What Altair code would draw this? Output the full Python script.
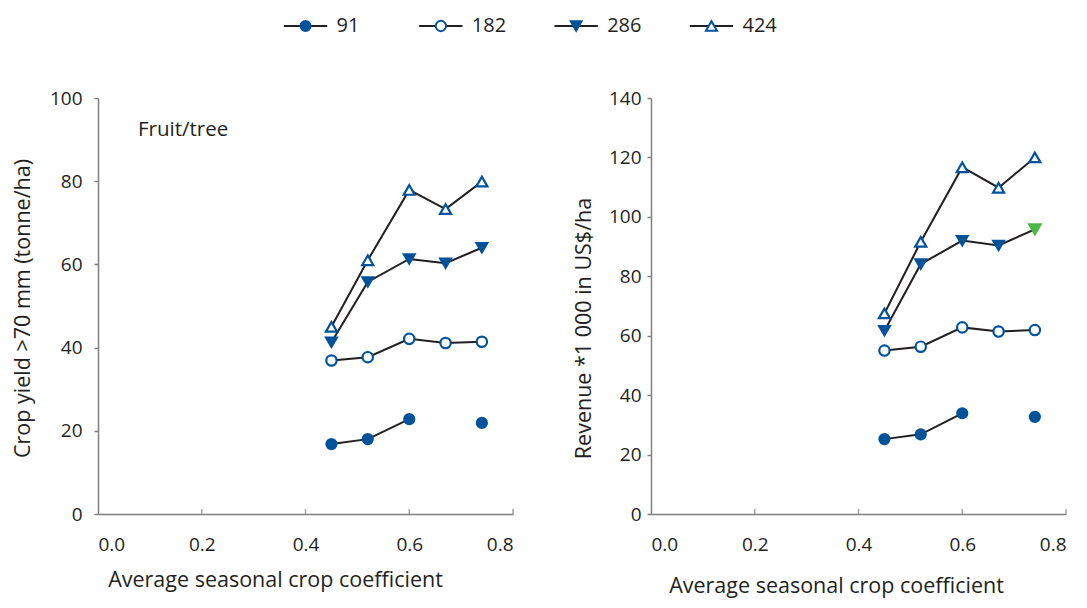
import altair as alt
import pandas as pd

# ---------------- data ----------------
series = ["91", "182", "286", "424"]
coef = [0.45, 0.52, 0.60, 0.67, 0.74]

yield_91 = [16.8, 18.0, 22.8, None, 21.9]
yield_182 = [36.9, 37.7, 42.1, 41.1, 41.4]
yield_286 = [41.3, 55.8, 61.3, 60.3, 64.0]
yield_424 = [45.0, 61.0, 77.9, 73.3, 79.9]

rev_91 = [25.2, 26.8, 33.9, None, 32.7]
rev_182 = [55.0, 56.3, 62.8, 61.4, 61.9]
rev_286 = [61.7, 84.1, 92.0, 90.4, 95.8]
rev_424 = [67.5, 91.6, 116.7, 109.8, 120.0]

x_ticks = [0.0, 0.2, 0.4, 0.6, 0.8]
yield_ticks = [0, 20, 40, 60, 80, 100]
rev_ticks = [0, 20, 40, 60, 80, 100, 120, 140]

# ---------------- style ----------------
FONT = "Open Sans"
BLUE = "#00529B"
GREEN = "#4DB848"
INK = "#231F20"
GREY = "#808080"

keys = ["91", "182", "286", "424", "hl"]
shapes = ["circle", "circle", "triangle-down", "triangle-up", "triangle-down"]
fills = [BLUE, "white", BLUE, "white", GREEN]
strokes = [BLUE, BLUE, BLUE, BLUE, GREEN]
sizes = [160, 190, 165, 170, 165]
legend_sizes = [100, 130, 90, 120, 90]


def build(values, highlight=None):
    rows = []
    for s, vals in zip(series, values):
        seg = 0
        for i, (x, v) in enumerate(zip(coef, vals)):
            if v is None:
                seg += 1
                continue
            key = "hl" if highlight == (s, i) else s
            rows.append(dict(series=s, x=x, y=v, seg=f"{s}-{seg}", key=key))
    return pd.DataFrame(rows)


def point_enc(size_range):
    return dict(
        shape=alt.Shape("key:N", scale=alt.Scale(domain=keys, range=shapes), legend=None),
        fill=alt.Fill("key:N", scale=alt.Scale(domain=keys, range=fills), legend=None),
        stroke=alt.Stroke("key:N", scale=alt.Scale(domain=keys, range=strokes), legend=None),
        size=alt.Size("key:N", scale=alt.Scale(domain=keys, range=size_range), legend=None),
    )


def panel(df, ymax, yvals, ytitle, ytitle_x, ytitle_y, ylabpad, xtitle_x, xtitle_y, note=None):
    x = alt.X(
        "x:Q",
        scale=alt.Scale(domain=[0, 0.8], nice=False, zero=False),
        axis=alt.Axis(
            values=x_ticks, format=".1f", ticks=False, labelPadding=21,
            title="Average seasonal crop coefficient",
            titleX=xtitle_x, titleY=xtitle_y, titleAlign="center", titleBaseline="middle",
        ),
    )
    y = alt.Y(
        "y:Q",
        scale=alt.Scale(domain=[0, ymax], nice=False),
        axis=alt.Axis(
            values=yvals, tickSize=4, labelPadding=ylabpad, title=ytitle,
            titleX=ytitle_x, titleY=ytitle_y, titleAlign="center", titleBaseline="middle",
        ),
    )
    lines = alt.Chart(df).mark_line(color=INK, strokeWidth=2).encode(
        x=x, y=y, detail="seg:N", order="x:Q"
    )
    pts = alt.Chart(df).mark_point(filled=True, opacity=1, strokeWidth=2.2).encode(
        x="x:Q", y="y:Q", **point_enc(sizes)
    )
    tick_df = pd.DataFrame({"x": x_ticks[1:], "y": [0] * (len(x_ticks) - 1)})
    ticks = alt.Chart(tick_df).mark_tick(
        orient="vertical", size=5, thickness=1.5, color=GREY, yOffset=-2.5
    ).encode(x="x:Q", y="y:Q")
    layers = [lines, pts, ticks]
    if note is not None:
        layers.append(
            alt.Chart(pd.DataFrame({"x": [note[0]], "y": [note[1]], "t": [note[2]]}))
            .mark_text(align="left", baseline="middle", font=FONT, fontSize=20.5, color=INK)
            .encode(x="x:Q", y="y:Q", text="t:N")
        )
    return alt.layer(*layers).properties(width=415, height=416)


left_df = build([yield_91, yield_182, yield_286, yield_424])
right_df = build([rev_91, rev_182, rev_286, rev_424], highlight=("286", 4))

left = panel(left_df, 100, yield_ticks, "Crop yield >70 mm (tonne/ha)", -75, 210, 12, 177, 66,
             note=(0.077, 92.3, "Fruit/tree"))
right = panel(right_df, 140, rev_ticks, "Revenue *1 000  in US$/ha", -67, 230, 6, 185, 72)

# ---------------- legend ----------------
leg_df = pd.DataFrame({"i": list(range(len(series))), "key": series, "label": series})
leg_df["lo"] = leg_df["i"] - 0.16
leg_df["hi"] = leg_df["i"] + 0.16
lx = alt.Scale(domain=[-1.534, 4.231], nice=False, zero=False)
ly = alt.Scale(domain=[0, 1])
leg_line = alt.Chart(leg_df).mark_rule(color=INK, strokeWidth=2).encode(
    x=alt.X("lo:Q", scale=lx, axis=None), x2="hi:Q", y=alt.Y("y:Q", scale=ly, axis=None)
).transform_calculate(y="0.4")
leg_pts = alt.Chart(leg_df).mark_point(filled=True, opacity=1, strokeWidth=2).encode(
    x=alt.X("i:Q", scale=lx, axis=None), y=alt.Y("y:Q", scale=ly, axis=None),
    **point_enc(legend_sizes)
).transform_calculate(y="0.4")
leg_txt = alt.Chart(leg_df).mark_text(
    align="left", baseline="middle", dx=31, font=FONT, fontSize=20, color=INK
).encode(
    x=alt.X("i:Q", scale=lx, axis=None), y=alt.Y("y:Q", scale=ly, axis=None), text="label:N"
).transform_calculate(y="0.4")
legend = alt.layer(leg_line, leg_pts, leg_txt).properties(width=780, height=20)

chart = (
    alt.vconcat(legend, alt.hconcat(left, right, spacing=59), spacing=53)
    .properties(padding={"left": 12, "top": 14, "right": 5, "bottom": 5})
    .configure_view(stroke=None)
    .configure_axis(
        grid=False, domainColor=GREY, domainWidth=1.5, tickColor=GREY, tickWidth=1.5,
        labelFont=FONT, labelFontSize=19, labelColor=INK,
        titleFont=FONT, titleFontSize=21.5, titleColor=INK, titleFontWeight="normal",
    )
    .configure_text(font=FONT)
)

chart.save("out.html", embed_options={"renderer": "svg", "actions": False})
